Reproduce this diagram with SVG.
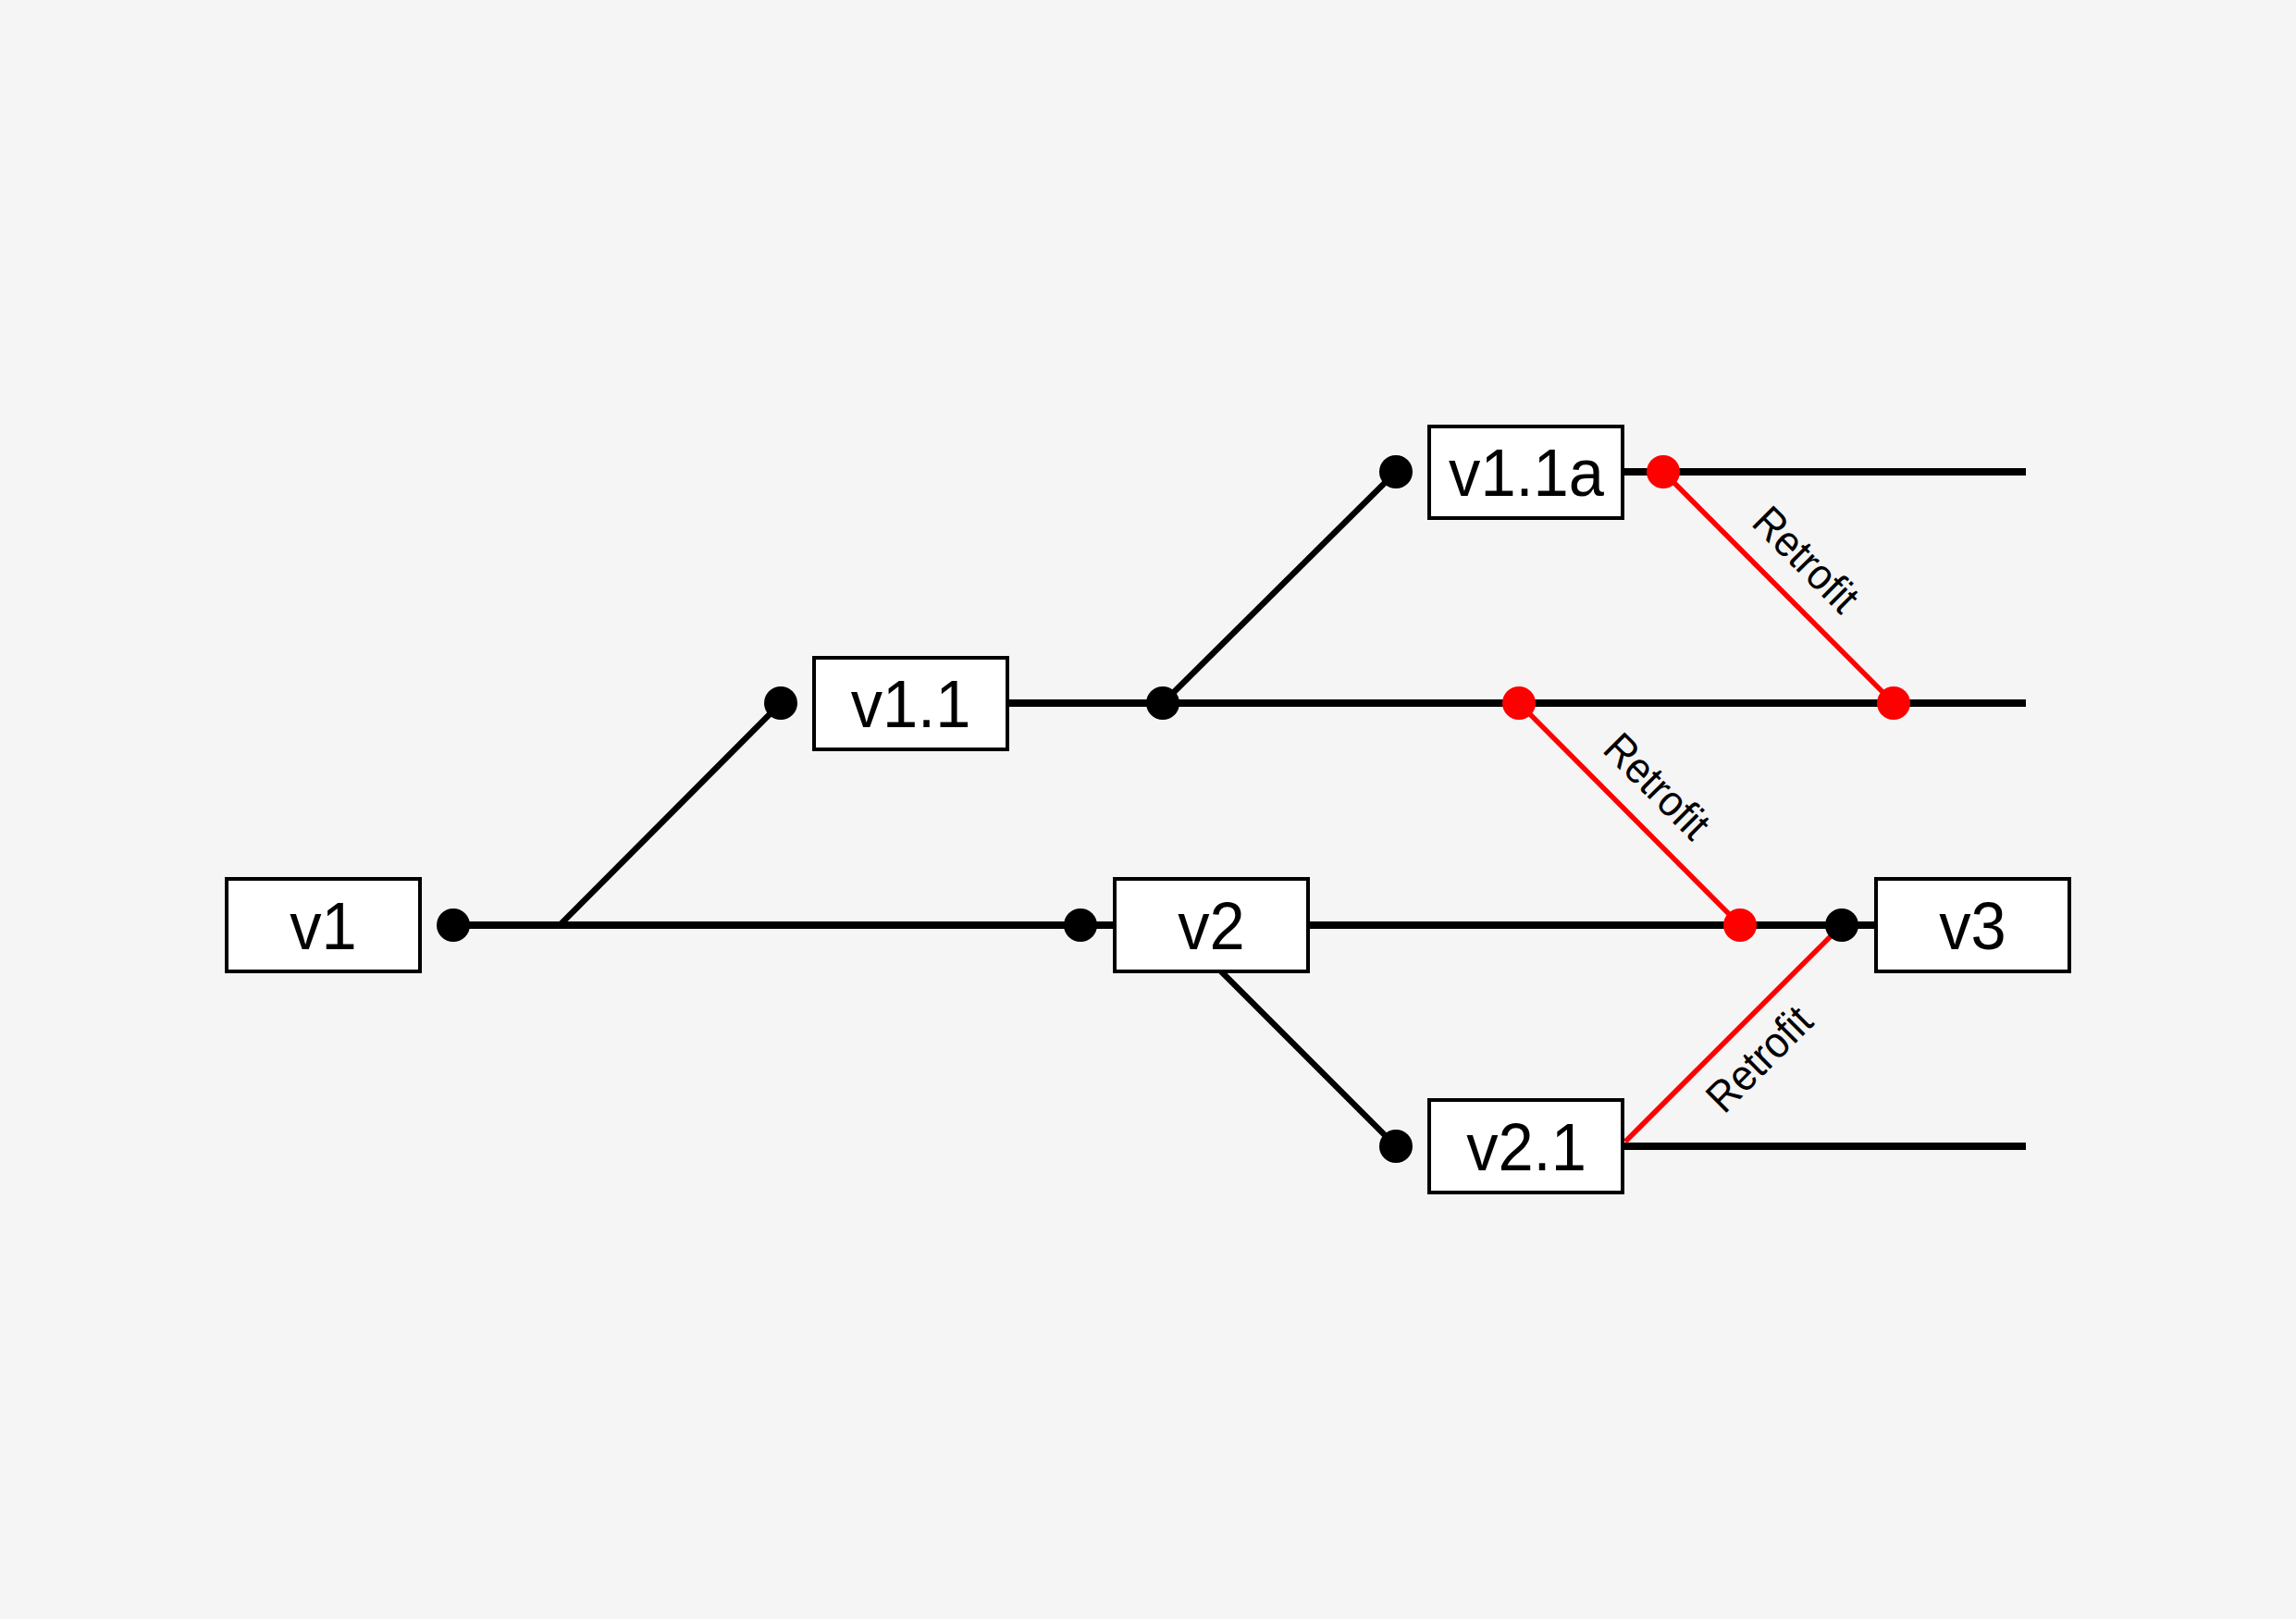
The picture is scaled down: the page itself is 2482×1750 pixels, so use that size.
<svg xmlns="http://www.w3.org/2000/svg" width="2482" height="1750" viewBox="0 0 2482 1750">
<style>
.box{fill:#ffffff;stroke:#000000;stroke-width:4}
.lbl{font-family:"Liberation Sans",Arial,sans-serif;font-size:73px;fill:#000000;text-anchor:middle}
.h{stroke:#000000;stroke-width:8;fill:none}
.d{stroke:#000000;stroke-width:6.5;fill:none}
.r{stroke:#ff0000;stroke-width:5.5;fill:none}
.dot{fill:#000000}
.rdot{fill:#ff0000}
.rt{font-family:"Liberation Sans",Arial,sans-serif;font-size:47px;fill:#000000;text-anchor:middle}
</style>
<rect x="0" y="0" width="2482" height="1750" fill="#f5f5f5"/>
<g id="connectors">
<line class="h" x1="490" y1="1000" x2="1205" y2="1000"/>
<line class="d" x1="605" y1="1000" x2="844" y2="760"/>
<line class="h" x1="1089" y1="760" x2="2190" y2="760"/>
<line class="d" x1="1257" y1="760" x2="1509" y2="510"/>
<line class="h" x1="1754" y1="510" x2="2190" y2="510"/>
<line class="h" x1="1414" y1="1000" x2="2028" y2="1000"/>
<line class="d" x1="1320" y1="1050" x2="1509" y2="1239"/>
<line class="h" x1="1755" y1="1239" x2="2190" y2="1239"/>
<line class="r" x1="1798" y1="510" x2="2047" y2="760"/>
<line class="r" x1="1642" y1="760" x2="1881" y2="1000"/>
<line class="r" x1="1757" y1="1234" x2="1991" y2="1000"/>
<circle class="dot" cx="490" cy="1000" r="18"/>
<circle class="dot" cx="844" cy="760" r="18"/>
<circle class="dot" cx="1168" cy="1000" r="18"/>
<circle class="dot" cx="1257" cy="760" r="18"/>
<circle class="dot" cx="1509" cy="510" r="18"/>
<circle class="dot" cx="1509" cy="1239" r="18"/>
<circle class="dot" cx="1991" cy="1000" r="18"/>
<circle class="rdot" cx="1798" cy="510" r="18"/>
<circle class="rdot" cx="2047" cy="760" r="18"/>
<circle class="rdot" cx="1642" cy="760" r="18"/>
<circle class="rdot" cx="1881" cy="1000" r="18"/>
<text class="rt" transform="translate(1922,635) rotate(45) translate(0,-27) scale(0.92,1)">Retrofit</text>
<text class="rt" transform="translate(1761,880) rotate(45) translate(0,-27) scale(0.92,1)">Retrofit</text>
<text class="rt" transform="translate(1874,1117) rotate(-45) translate(0,55) scale(0.92,1)">Retrofit</text>
</g>
<g id="v1"><rect class="box" x="245" y="950" width="209" height="100"/><text class="lbl" transform="translate(349.5,1026) scale(0.94,1)">v1</text></g>
<g id="v1.1"><rect class="box" x="880" y="711" width="209" height="99"/><text class="lbl" transform="translate(984.5,786) scale(0.94,1)">v1.1</text></g>
<g id="v1.1a"><rect class="box" x="1545" y="461" width="209" height="99"/><text class="lbl" transform="translate(1650,536) scale(0.94,1)">v1.1a</text></g>
<g id="v2"><rect class="box" x="1205" y="950" width="209" height="100"/><text class="lbl" transform="translate(1309.5,1026) scale(0.94,1)">v2</text></g>
<g id="v3"><rect class="box" x="2028" y="950" width="209" height="100"/><text class="lbl" transform="translate(2132.5,1026) scale(0.94,1)">v3</text></g>
<g id="v2.1"><rect class="box" x="1545" y="1189" width="209" height="100"/><text class="lbl" transform="translate(1650,1265) scale(0.94,1)">v2.1</text></g>
</svg>
